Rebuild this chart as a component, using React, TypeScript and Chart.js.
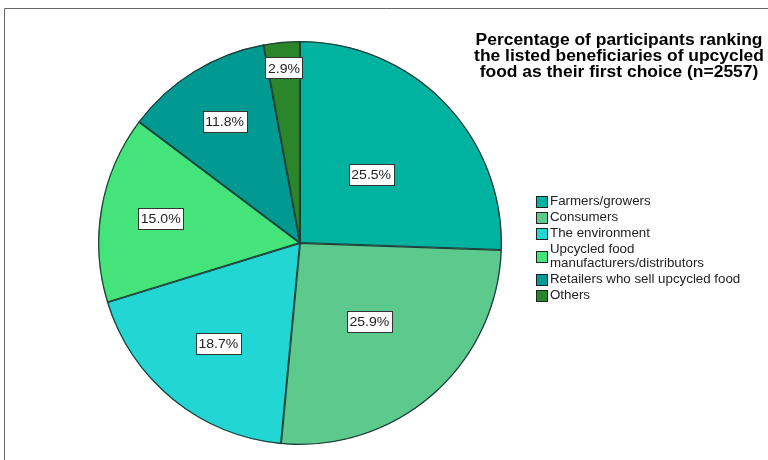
import React, { useEffect, useRef } from "react";
import { Chart, registerables } from "chart.js";

Chart.register(...registerables);

const categories = [
  "Farmers/growers",
  "Consumers",
  "The environment",
  "Upcycled food manufacturers/distributors",
  "Retailers who sell upcycled food",
  "Others",
];
const legendLines = [
  ["Farmers/growers"],
  ["Consumers"],
  ["The environment"],
  ["Upcycled food", "manufacturers/distributors"],
  ["Retailers who sell upcycled food"],
  ["Others"],
];
const values = [25.5, 25.9, 18.7, 15.0, 11.8, 2.9];
const colors = ["#00B3A0", "#5CCA8C", "#22D6D4", "#44E47B", "#009A92", "#2B862B"];
const labelRadiusFrac = [0.49, 0.52, 0.64, 0.7, 0.71, 0.87];
const titleLines = [
  "Percentage of participants ranking",
  "the listed beneficiaries of upcycled",
  "food as their first choice (n=2557)",
];

function stretchText(ctx: any, txt: string, x: number, y: number, sx: number, align: string) {
  ctx.save();
  ctx.translate(x, y);
  ctx.scale(sx, 1);
  ctx.textAlign = align;
  ctx.fillText(txt, 0, 0);
  ctx.restore();
}

const decor = {
  id: "decor",
  beforeDraw(chart: any) {
    const ctx = chart.ctx;
    ctx.save();
    ctx.fillStyle = "#fff";
    ctx.fillRect(0, 0, chart.width, chart.height);
    ctx.strokeStyle = "#666";
    ctx.lineWidth = 1;
    ctx.beginPath();
    ctx.moveTo(4.5, 460);
    ctx.lineTo(4.5, 8.5);
    ctx.lineTo(768, 8.5);
    ctx.stroke();
    ctx.restore();
  },
  afterDraw(chart: any) {
    const ctx = chart.ctx;
    const meta = chart.getDatasetMeta(0);
    ctx.save();
    ctx.font = "13px 'Liberation Sans', Arial, sans-serif";
    ctx.textBaseline = "middle";
    meta.data.forEach((arc: any, i: number) => {
      const mid = (arc.startAngle + arc.endAngle) / 2;
      const r = arc.outerRadius * labelRadiusFrac[i];
      const x = arc.x + Math.cos(mid) * r;
      const y = arc.y + Math.sin(mid) * r;
      const txt = values[i].toFixed(1) + "%";
      const w = Math.round(ctx.measureText(txt).width * 1.08 + 5);
      const h = 21;
      const bx = Math.round(x - w / 2) + 0.5;
      const by = Math.round(y - h / 2) + 0.5;
      ctx.fillStyle = "#fff";
      ctx.fillRect(bx, by, w, h);
      ctx.strokeStyle = "#333";
      ctx.lineWidth = 1;
      ctx.strokeRect(bx, by, w, h);
      ctx.fillStyle = "#222";
      stretchText(ctx, txt, x, y + 1, 1.08, "center");
    });

    // title
    ctx.font = "bold 16px 'Liberation Sans', Arial, sans-serif";
    ctx.fillStyle = "#000";
    titleLines.forEach((t, i) => stretchText(ctx, t, 619, 41 + i * 16, 1.09, "center"));

    // legend
    ctx.font = "12px 'Liberation Sans', Arial, sans-serif";
    let y = 202;
    legendLines.forEach((lines, i) => {
      const n = lines.length;
      const cy = y + ((n - 1) * 14) / 2;
      ctx.fillStyle = colors[i];
      ctx.fillRect(536.5, Math.round(cy - 6) + 0.5, 11, 11);
      ctx.strokeStyle = "#222";
      ctx.strokeRect(536.5, Math.round(cy - 6) + 0.5, 11, 11);
      ctx.fillStyle = "#222";
      lines.forEach((l, j) => stretchText(ctx, l, 550, y + j * 14, 1.11, "left"));
      y += 16 + (n - 1) * 14;
    });
    ctx.restore();
  },
};

export default function App() {
  const ref = useRef<HTMLCanvasElement>(null);
  useEffect(() => {
    const chart = new Chart(ref.current!, {
      type: "pie",
      data: {
        labels: categories,
        datasets: [
          {
            data: values,
            backgroundColor: colors,
            borderColor: "#1f3f3a",
            borderWidth: 1,
            borderAlign: "inner" as any,
          },
        ],
      },
      options: {
        responsive: false,
        animation: false,
        radius: 202,
        layout: { padding: { left: 98, right: 266, top: 41, bottom: 15 } },
        plugins: {
          legend: { display: false },
          tooltip: { enabled: false },
          title: { display: false },
        },
      },
      plugins: [decor],
    });
    return () => chart.destroy();
  }, []);
  return (
    <div style={{ position: "absolute", left: 0, top: 0, width: 768, height: 460 }}>
      <canvas ref={ref} width={768} height={460} style={{ width: 768, height: 460 }} />
    </div>
  );
}
